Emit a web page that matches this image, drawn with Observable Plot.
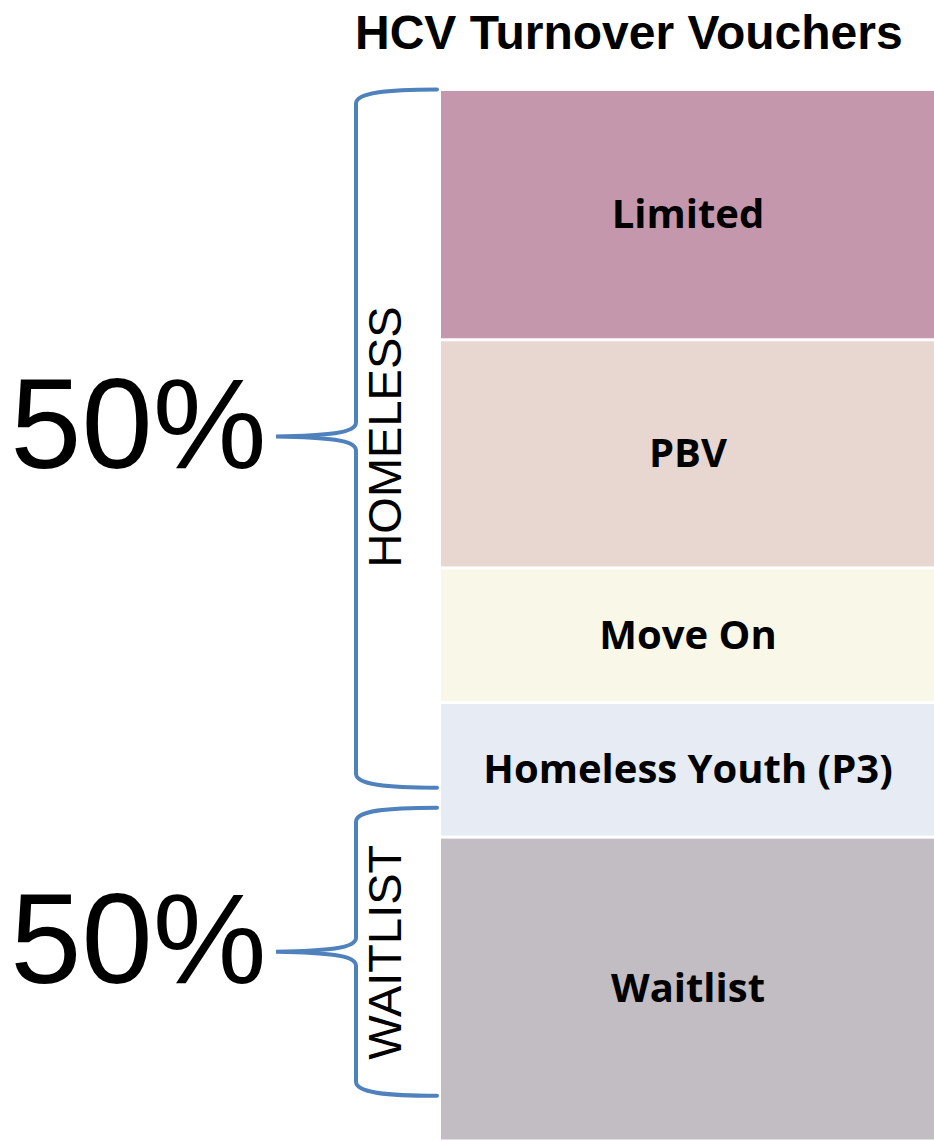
<!DOCTYPE html>
<html><head><meta charset="utf-8">
<script src="https://cdn.jsdelivr.net/npm/d3@7"></script>
<script src="https://cdn.jsdelivr.net/npm/@observablehq/plot@0.6"></script>
<style>
body{margin:0;background:#fff;}
#wrap{position:relative;width:934px;height:1141px;overflow:hidden;background:#fff;}
#title{position:absolute;left:355px;top:9px;z-index:2;font:bold 48px "Liberation Sans",Arial,sans-serif;line-height:1;white-space:nowrap;color:#000;}
#wrap svg{position:absolute;left:0;top:0;}
</style></head><body><div id="wrap"></div>
<script>
// Stacked segments, top to bottom (share of turnover vouchers, %)
const categories = ["Limited", "PBV", "Move On", "Homeless Youth (P3)", "Waitlist"];
const shares = [23.8, 21.7, 12.8, 12.8, 28.9];
const colors = ["#c597ad", "#e8d7d0", "#f9f7e7", "#e7ebf3", "#c2bcc3"];
const barName = "HCV Turnover Vouchers";

// Bracket annotations (in the same % units as the bar)
const groupNames = ["HOMELESS", "WAITLIST"];
const groupShares = ["50%", "50%"];
const groupFrom = [100, 31.7];
const groupTo = [33.6, 4.3];
const groupTip = [67, 18];

const data = categories.map((c, i) => ({category: c, share: shares[i]}));
const groups = groupNames.map((n, i) => ({
  name: n, share: groupShares[i], from: groupFrom[i], to: groupTo[i],
  tip: groupTip[i], mid: (groupFrom[i] + groupTo[i]) / 2
}));

const W = 934, H = 1141, ML = 441, MT = 89.5;

const plot = Plot.plot({
  width: W, height: H,
  marginLeft: ML, marginRight: 0, marginTop: MT, marginBottom: 0,
  style: {background: "transparent", overflow: "visible"},
  x: {type: "band", domain: [barName], padding: 0, axis: null},
  y: {domain: [0, 100], axis: null},
  color: {domain: categories, range: colors},
  marks: [
    Plot.barY(data, {x: () => barName, y: "share", fill: "category", reverse: true, insetTop: 1.5, insetBottom: 1.5}),
    Plot.text(data, Plot.stackY({x: () => barName, y: "share", text: "category", reverse: true,
      fontSize: 40, fontWeight: 700, fontFamily: "Open Sans", fill: "#000"})),
    Plot.text(groups, {y: "tip", text: "share", frameAnchor: "left", dx: -175, dy: -10,
      textAnchor: "end", fontSize: 128, fontFamily: "Liberation Sans", fill: "#000"}),
    Plot.text(groups, {y: "tip", text: "name", frameAnchor: "left", dx: -56, rotate: -90,
      textAnchor: "middle", fontSize: 47, fontFamily: "Liberation Sans", fill: "#000"})
  ]
});

// Curly brackets drawn on the plot's own y scale
const ys = plot.scale("y");
const y = d3.scaleLinear().domain(ys.domain).range(ys.range);
const xe = ML - 4, xv = ML - 85, xt = ML - 165;
d3.select(plot).append("g")
  .selectAll("path").data(groups).join("path")
  .attr("fill", "none").attr("stroke", "#4f81bd").attr("stroke-width", 4).attr("stroke-linecap", "round")
  .attr("d", g => {
    const y0 = y(g.from), y1 = y(g.to), ym = y(g.tip);
    const p = d3.path();
    p.moveTo(xe, y0);
    p.bezierCurveTo(xv + 30, y0, xv, y0 + 3, xv, y0 + 14);
    p.lineTo(xv, ym - 14);
    p.bezierCurveTo(xv, ym - 3, xv - 30, ym - 1, xt, ym);
    p.bezierCurveTo(xv - 30, ym + 1, xv, ym + 3, xv, ym + 14);
    p.lineTo(xv, y1 - 14);
    p.bezierCurveTo(xv, y1 - 3, xv + 30, y1, xe, y1);
    return p.toString();
  });

const wrap = document.getElementById("wrap");
wrap.appendChild(plot);
const t = document.createElement("div");
t.id = "title";
t.textContent = barName;
wrap.appendChild(t);
</script>
</body></html>
